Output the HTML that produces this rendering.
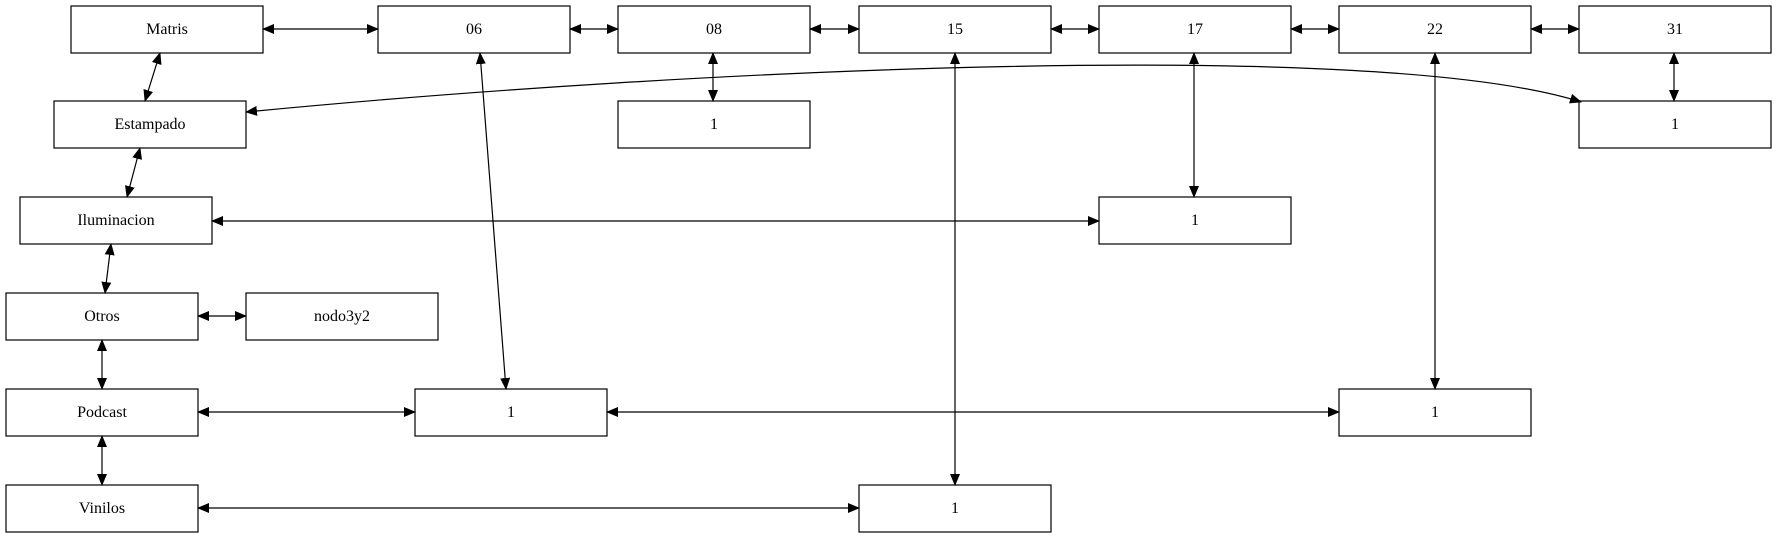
<!DOCTYPE html>
<html><head><meta charset="utf-8"><style>
html,body{margin:0;padding:0;background:#fff;}
svg{display:block}
text{font-family:"Liberation Serif",serif;font-size:16px;fill:#000}
</style></head><body>
<svg width="1776" height="539" xmlns="http://www.w3.org/2000/svg">
<defs>
<marker id="a" markerWidth="12" markerHeight="10" refX="11" refY="5" orient="auto-start-reverse" markerUnits="userSpaceOnUse">
<path d="M0,0 L12,5 L0,10 z" fill="#000"/>
</marker>
</defs>
<g fill="#fff" stroke="#000" stroke-width="1.2">
<rect x="71" y="6" width="192" height="47"/>
<rect x="378" y="6" width="192" height="47"/>
<rect x="618" y="6" width="192" height="47"/>
<rect x="859" y="6" width="192" height="47"/>
<rect x="1099" y="6" width="192" height="47"/>
<rect x="1339" y="6" width="192" height="47"/>
<rect x="1579" y="6" width="192" height="47"/>
<rect x="54" y="101" width="192" height="47"/>
<rect x="618" y="101" width="192" height="47"/>
<rect x="1579" y="101" width="192" height="47"/>
<rect x="20" y="197" width="192" height="47"/>
<rect x="1099" y="197" width="192" height="47"/>
<rect x="6" y="293" width="192" height="47"/>
<rect x="246" y="293" width="192" height="47"/>
<rect x="6" y="389" width="192" height="47"/>
<rect x="415" y="389" width="192" height="47"/>
<rect x="1339" y="389" width="192" height="47"/>
<rect x="6" y="485" width="192" height="47"/>
<rect x="859" y="485" width="192" height="47"/>
</g>
<g stroke="#000" stroke-width="1.2" fill="none" marker-start="url(#a)" marker-end="url(#a)">
<line x1="263" y1="29" x2="378" y2="29"/>
<line x1="570" y1="29" x2="618" y2="29"/>
<line x1="810" y1="29" x2="859" y2="29"/>
<line x1="1051" y1="29" x2="1099" y2="29"/>
<line x1="1291" y1="29" x2="1339" y2="29"/>
<line x1="1531" y1="29" x2="1579" y2="29"/>
<line x1="160" y1="53" x2="145" y2="101"/>
<line x1="140" y1="148" x2="127" y2="197"/>
<line x1="111" y1="244" x2="105" y2="293"/>
<line x1="102" y1="340" x2="102" y2="389"/>
<line x1="102" y1="436" x2="102" y2="485"/>
<line x1="198" y1="316" x2="246" y2="316"/>
<line x1="212" y1="221" x2="1099" y2="221"/>
<line x1="198" y1="412" x2="415" y2="412"/>
<line x1="607" y1="412" x2="1339" y2="412"/>
<line x1="198" y1="508" x2="859" y2="508"/>
<line x1="480" y1="53" x2="506" y2="389"/>
<line x1="713" y1="53" x2="713" y2="101"/>
<line x1="955" y1="53" x2="955" y2="485"/>
<line x1="1194" y1="53" x2="1194" y2="197"/>
<line x1="1435" y1="53" x2="1435" y2="389"/>
<line x1="1674" y1="53" x2="1674" y2="101"/>
<path d="M246,112 C700,68 1380,38 1581,102"/>
</g>
<g text-anchor="middle">
<text x="167" y="34">Matris</text>
<text x="474" y="34">06</text>
<text x="714" y="34">08</text>
<text x="955" y="34">15</text>
<text x="1195" y="34">17</text>
<text x="1435" y="34">22</text>
<text x="1675" y="34">31</text>
<text x="150" y="129">Estampado</text>
<text x="714" y="129">1</text>
<text x="1675" y="129">1</text>
<text x="116" y="225">Iluminacion</text>
<text x="1195" y="225">1</text>
<text x="102" y="321">Otros</text>
<text x="342" y="321">nodo3y2</text>
<text x="102" y="417">Podcast</text>
<text x="511" y="417">1</text>
<text x="1435" y="417">1</text>
<text x="102" y="513">Vinilos</text>
<text x="955" y="513">1</text>
</g>
</svg>
</body></html>
